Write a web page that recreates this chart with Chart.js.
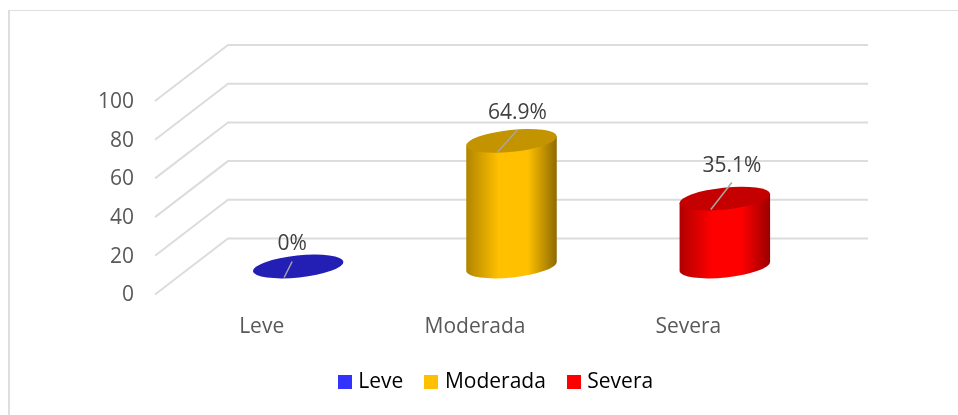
<!DOCTYPE html>
<html>
<head>
<meta charset="utf-8">
<script src="https://cdn.jsdelivr.net/npm/chart.js@4"></script>
<style>
  html, body { margin: 0; padding: 0; background: #fff; }
  #wrap { position: relative; width: 958px; height: 415px; overflow: hidden; }
  #frame { position: absolute; left: 8px; top: 10px; width: 960px; height: 420px; border: 1px solid #dedede; border-left-width: 2px; box-sizing: border-box; }
</style>
</head>
<body>
<div id="wrap">
  <div id="frame"></div>
  <canvas id="chart" width="958" height="415"></canvas>
</div>
<script>
'use strict';

const CATEGORIES = ['Leve', 'Moderada', 'Severa'];
const VALUES = [0, 64.9, 35.1];
const VALUE_LABELS = ['0%', '64.9%', '35.1%'];
const LEGEND_COLORS = ['#3333ff', '#ffc000', '#ff0000'];
const TOP_COLORS = ['#231fb5', '#c49300', '#c40000'];
const EDGE_COLORS = [
  ['#1a1a99', '#14147a'],
  ['#b08400', '#8c6900'],
  ['#b00000', '#990000'],
];
const Y_MIN = 0;
const Y_MAX = 100;
const Y_STEP = 20;

const FONT = '"Open Sans", sans-serif';
const FONT_SIZE = 21;
const DEPTH_X = 73;
const DEPTH_Y = 56;
const TILT = -6 * Math.PI / 180;
// hand placed in the original, so each data label has its own nudge
const LABEL_NUDGE = [[-6, -22], [6, -28], [7, -33]];

// floor and back wall lines, worked out from the y scale ticks
const wallPlugin = {
  id: 'wall',
  beforeDatasetsDraw(chart) {
    const { ctx, chartArea, scales } = chart;
    ctx.save();
    ctx.strokeStyle = '#dcdcdc';
    ctx.lineWidth = 2;
    scales.y.ticks.forEach(t => {
      const y = scales.y.getPixelForValue(t.value);
      ctx.beginPath();
      ctx.moveTo(chartArea.left, y);
      ctx.lineTo(chartArea.left + DEPTH_X, y - DEPTH_Y);
      ctx.lineTo(chartArea.right + DEPTH_X, y - DEPTH_Y);
      ctx.stroke();
    });
    ctx.restore();
  },
};

function drawCylinder(ctx, bar, i) {
  const cx = bar.x + DEPTH_X / 2;
  const rx = bar.width / 2 + 0.5;
  const ry = 11;
  const yTop = bar.y - DEPTH_Y / 2;
  const yBase = bar.base - DEPTH_Y / 2;

  if (yBase - yTop > 0.5) {
    const grad = ctx.createLinearGradient(cx - rx, 0, cx + rx, 0);
    grad.addColorStop(0, EDGE_COLORS[i][0]);
    grad.addColorStop(0.36, LEGEND_COLORS[i]);
    grad.addColorStop(0.68, LEGEND_COLORS[i]);
    grad.addColorStop(1, EDGE_COLORS[i][1]);
    const tipX = rx * Math.cos(TILT);
    const tipY = rx * Math.sin(TILT);
    ctx.fillStyle = grad;
    ctx.beginPath();
    ctx.moveTo(cx - tipX, yTop - tipY);
    ctx.lineTo(cx - tipX, yBase - tipY);
    ctx.ellipse(cx, yBase, rx, ry, TILT, Math.PI, 0, true);
    ctx.lineTo(cx + tipX, yTop + tipY);
    ctx.closePath();
    ctx.fill();
  }

  ctx.fillStyle = TOP_COLORS[i];
  ctx.beginPath();
  ctx.ellipse(cx, yTop, rx, ry, TILT, 0, Math.PI * 2);
  ctx.fill();
}

const cylinderPlugin = {
  id: 'cylinders',
  afterDatasetsDraw(chart) {
    const { ctx } = chart;
    const bars = chart.getDatasetMeta(0).data;
    ctx.save();
    bars.forEach((bar, i) => drawCylinder(ctx, bar, i));

    bars.forEach((bar, i) => {
      const cx = bar.x + DEPTH_X / 2;
      const yTop = bar.y - DEPTH_Y / 2;
      const [nx, ny] = LABEL_NUDGE[i];
      ctx.strokeStyle = '#a6a6a6';
      ctx.lineWidth = 1.5;
      ctx.beginPath();
      ctx.moveTo(cx - 14, yTop + 11);
      ctx.lineTo(cx + nx, yTop + ny + 17);
      ctx.stroke();
      ctx.fillStyle = '#404040';
      ctx.font = FONT_SIZE + 'px ' + FONT;
      ctx.textAlign = 'center';
      ctx.textBaseline = 'middle';
      ctx.fillText(VALUE_LABELS[i], cx + nx, yTop + ny);
    });
    ctx.restore();
  },
};

// the legend sits right of the plot centre in the original
const legendShiftPlugin = {
  id: 'legendShift',
  afterLayout(chart) {
    chart.legend.left += 100;
    chart.legend.right += 100;
  },
};

// swatch wider than the legend's box width, so the label sits closer to it
function legendSwatch(color) {
  const c = document.createElement('canvas');
  c.width = 14;
  c.height = 14;
  const g = c.getContext('2d');
  g.fillStyle = color;
  g.fillRect(0, 0, 14, 14);
  return c;
}

new Chart(document.getElementById('chart'), {
  type: 'bar',
  data: {
    labels: CATEGORIES,
    datasets: [{
      data: VALUES,
      backgroundColor: 'rgba(0,0,0,0)',
      barPercentage: 90 / 213.3,
      categoryPercentage: 1,
    }],
  },
  plugins: [wallPlugin, cylinderPlugin, legendShiftPlugin],
  options: {
    responsive: false,
    animation: false,
    layout: { padding: { top: 101, right: 163, bottom: 12.5, left: 0 } },
    plugins: {
      tooltip: { enabled: false },
      legend: {
        position: 'bottom',
        labels: {
          usePointStyle: true,
          boxWidth: 6,
          boxHeight: 14,
          padding: 25,
          color: '#595959',
          font: { family: FONT, size: FONT_SIZE },
          generateLabels: () => CATEGORIES.map((c, i) => ({
            text: c,
            pointStyle: legendSwatch(LEGEND_COLORS[i]),
            fillStyle: LEGEND_COLORS[i],
            strokeStyle: LEGEND_COLORS[i],
            lineWidth: 0,
          })),
        },
      },
    },
    scales: {
      x: {
        grid: { display: false },
        border: { display: false },
        ticks: { color: '#595959', padding: 11.5, font: { family: FONT, size: FONT_SIZE } },
        afterFit(s) { s.height = 52; },
      },
      y: {
        min: Y_MIN,
        max: Y_MAX,
        grid: { display: false },
        border: { display: false },
        ticks: {
          stepSize: Y_STEP,
          padding: 13,
          labelOffset: 1,
          color: '#595959',
          font: { family: FONT, size: FONT_SIZE },
        },
        afterFit(s) { s.width = 155; },
      },
    },
  },
});
</script>
</body>
</html>
